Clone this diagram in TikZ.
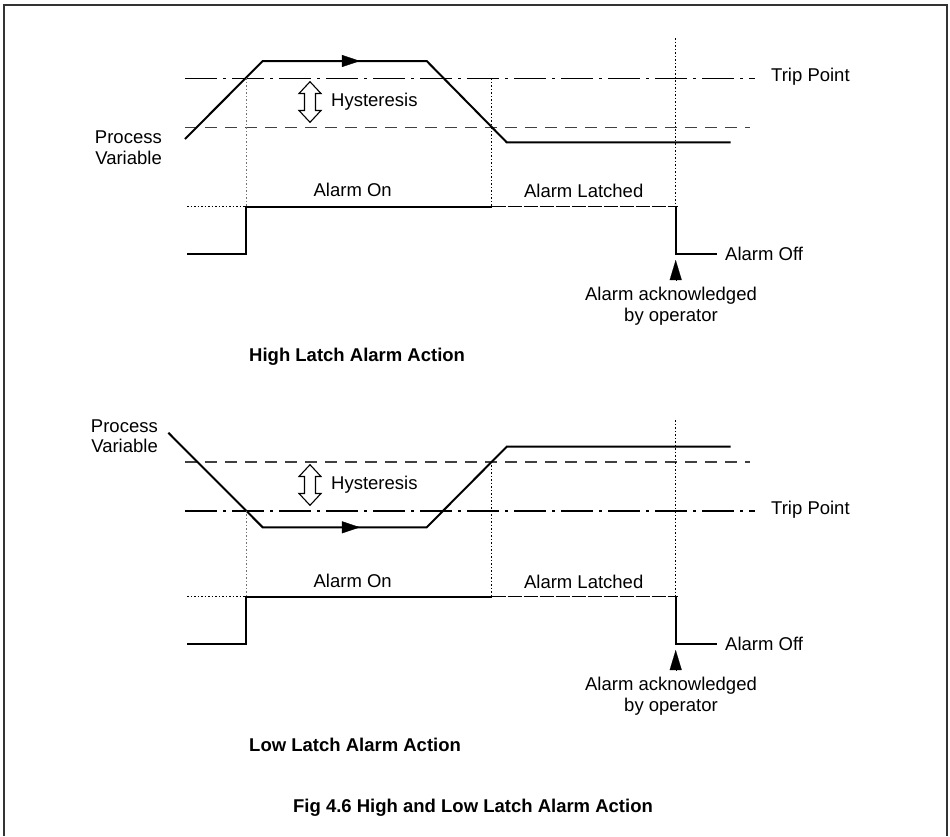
\documentclass[tikz,border=0pt]{standalone}
\usepackage{fontspec}
\setmainfont{Liberation Sans}
\usetikzlibrary{arrows.meta, decorations.markings}

\begin{document}
\begin{tikzpicture}[x=1pt, y=-1pt,
    pv/.style      ={line width=2pt, line join=miter},
    alarm/.style   ={line width=2pt},
    trip/.style    ={line width=1.6pt, dash pattern=on 32pt off 6pt on 3pt off 6pt},
    hyst/.style    ={line width=1.6pt, black!75, dash pattern=on 12pt off 8pt},
    latched/.style ={line width=1.4pt, dash pattern=on 14pt off 2pt},
    guide/.style   ={line width=1pt, dash pattern=on 1.5pt off 2pt},
    gguide/.style  ={guide, black!55},
    hysarr/.style  ={line width=1.1pt, fill=white},
    ackarr/.style  ={-{Triangle[length=20pt, width=12pt]}, line width=0.1pt},
    flow/.style    ={postaction={decorate}, decoration={markings,
                     mark=at position #1 with {\arrow{Triangle[length=18pt, width=12pt]}}}},
    lbl/.style     ={font=\fontsize{18.5}{20.5}\selectfont, inner sep=0pt},
    ttl/.style     ={font=\fontsize{18.5}{20.5}\selectfont\bfseries, inner sep=0pt}
]
\useasboundingbox (0,0) rectangle (950,836);

%% ── Frame ────────────────────────────────────────────────────────
\draw[line width=2pt, black!80] (3.5,836) -- (3.5,5) -- (947,5) -- (947,836);

%% ── High latch: levels ───────────────────────────────────────────
\draw[trip] (185,78.3)  -- (755,78.3);
\draw[hyst] (185,127.3) -- (750,127.3);
\node[lbl, anchor=west]  (tripA) at (771,77)      {Trip Point};
\node[lbl, anchor=east, align=right] (pvA) at (162,147.5) {Process\\Variable};

%% ── High latch: process variable ─────────────────────────────────
\coordinate (a1) at (185,139);
\coordinate (a2) at (262.7,61);
\coordinate (a3) at (426.7,61);
\coordinate (a4) at (506.7,142.3);
\coordinate (a5) at (730.7,142.3);
\draw[pv] (a1) -- (a2) -- (a3) -- (a4) -- (a5);
\path[flow=0.593] (a2) -- (a3);

%% ── High latch: hysteresis band ──────────────────────────────────
\coordinate (hA) at (310,102);
\draw[hysarr] (hA) ++(0,-20.3) -- ++(11,11.8) -- ++(-5.5,0) -- ++(0,17)
    -- ++(5.5,0) -- ++(-11,11.8) -- ++(-11,-11.8) -- ++(5.5,0)
    -- ++(0,-17) -- ++(-5.5,0) -- cycle;
\node[lbl, anchor=west] (hysA) at (331,101.7) {Hysteresis};

%% ── High latch: alarm output ─────────────────────────────────────
\draw[guide]  (187,206.7)   -- (246,206.7);
\draw[gguide] (246,78.3)    -- (246,206.7);
\draw[guide]  (491.7,78.3)  -- (491.7,206.7);
\draw[guide]  (675.7,38)    -- (675.7,206.7);
\draw[alarm]  (187,254.3) -- (246,254.3) -- (246,206.7) -- (491.7,206.7);
\draw[latched] (491.7,206.7) -- (678,206.7);
\draw[alarm]  (675.7,206.7) -- (675.7,254.3) -- (716.7,254.3);
\node[lbl] (onA)    at (352.7,190)   {Alarm On};
\node[lbl] (latchA) at (583.7,191)   {Alarm Latched};
\node[lbl, anchor=west] (offA) at (725,254) {Alarm Off};
\node[lbl, align=center, anchor=north] (ackA) at (671,287) {Alarm acknowledged\\by operator};
\draw[ackarr] (675.7,280) -- (675.7,260);

\node[ttl, anchor=west] (titleA) at (249,357) {High Latch Alarm Action};

%% ── Low latch: levels ────────────────────────────────────────────
\draw[hyst] (185,461.7) -- (750,461.7);
\draw[trip] (185,510.7) -- (755,510.7);
\node[lbl, anchor=west]  (tripB) at (771,510)  {Trip Point};
\node[lbl, anchor=east, align=right] (pvB) at (158,436) {Process\\Variable};

%% ── Low latch: process variable ──────────────────────────────────
\coordinate (b1) at (168.3,432.7);
\coordinate (b2) at (262.7,527.3);
\coordinate (b3) at (426.7,527.3);
\coordinate (b4) at (506.7,446.7);
\coordinate (b5) at (730.7,446.7);
\draw[pv] (b1) -- (b2) -- (b3) -- (b4) -- (b5);
\path[flow=0.593] (b2) -- (b3);

%% ── Low latch: hysteresis band ───────────────────────────────────
\coordinate (hB) at (310,485);
\draw[hysarr] (hB) ++(0,-20.3) -- ++(11,11.8) -- ++(-5.5,0) -- ++(0,17)
    -- ++(5.5,0) -- ++(-11,11.8) -- ++(-11,-11.8) -- ++(5.5,0)
    -- ++(0,-17) -- ++(-5.5,0) -- cycle;
\node[lbl, anchor=west] (hysB) at (331,485) {Hysteresis};

%% ── Low latch: alarm output ──────────────────────────────────────
\draw[guide]  (187,596.7)   -- (246,596.7);
\draw[gguide] (246,510.7)   -- (246,596.7);
\draw[guide]  (491.7,461.7) -- (491.7,596.7);
\draw[guide]  (675.7,420)   -- (675.7,596.7);
\draw[alarm]  (187,644.3) -- (246,644.3) -- (246,596.7) -- (491.7,596.7);
\draw[latched] (491.7,596.7) -- (678,596.7);
\draw[alarm]  (675.7,596.7) -- (675.7,644.3) -- (716.7,644.3);
\node[lbl] (onB)    at (352.7,581)   {Alarm On};
\node[lbl] (latchB) at (583.7,581.7) {Alarm Latched};
\node[lbl, anchor=west] (offB) at (725,644) {Alarm Off};
\node[lbl, align=center, anchor=north] (ackB) at (671,677) {Alarm acknowledged\\by operator};
\draw[ackarr] (675.7,670) -- (675.7,650);

\node[ttl, anchor=west] (titleB) at (249,745) {Low Latch Alarm Action};

%% ── Caption ──────────────────────────────────────────────────────
\node[ttl] (caption) at (473,808) {Fig 4.6 High and Low Latch Alarm Action};

\end{tikzpicture}
\end{document}
